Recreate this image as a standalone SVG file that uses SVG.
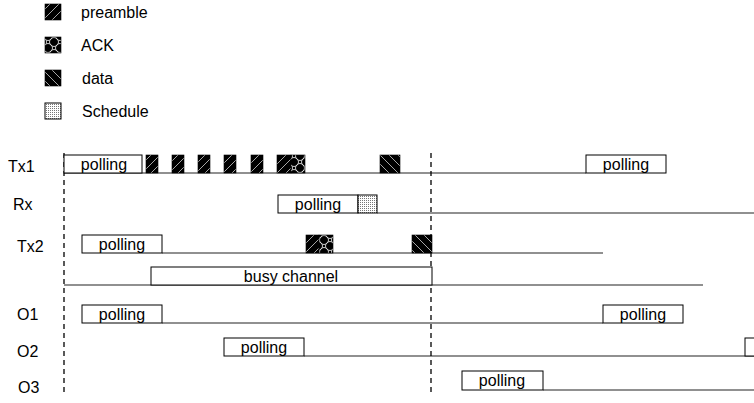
<svg xmlns="http://www.w3.org/2000/svg" width="754" height="403" viewBox="0 0 754 403">
<defs>
<pattern id="pPre" patternUnits="userSpaceOnUse" width="9" height="9">
<rect width="9" height="9" fill="#000"/>
<path d="M0 9L9 0M-1 1L1 -1M8 10L10 8" stroke="#d0d0d0" stroke-width="0.8"/>
</pattern>
<pattern id="pData" patternUnits="userSpaceOnUse" width="9" height="9">
<rect width="9" height="9" fill="#000"/>
<path d="M0 0L9 9M-1 8L1 10M8 -1L10 1" stroke="#d0d0d0" stroke-width="0.8"/>
</pattern>
<pattern id="pAck" patternUnits="userSpaceOnUse" width="12" height="12">
<rect width="12" height="12" fill="#000"/>
<circle cx="0" cy="0" r="4.5" fill="none" stroke="#dcdcdc" stroke-width="0.9"/>
<circle cx="12" cy="0" r="4.5" fill="none" stroke="#dcdcdc" stroke-width="0.9"/>
<circle cx="0" cy="12" r="4.5" fill="none" stroke="#dcdcdc" stroke-width="0.9"/>
<circle cx="12" cy="12" r="4.5" fill="none" stroke="#dcdcdc" stroke-width="0.9"/>
<circle cx="6" cy="6" r="4.5" fill="none" stroke="#dcdcdc" stroke-width="0.9"/>
</pattern>
<pattern id="pSch" patternUnits="userSpaceOnUse" width="2" height="2">
<rect width="2" height="2" fill="#fff"/>
<rect width="1" height="1" fill="#777"/>
</pattern>
</defs>
<style>
text{font-family:"Liberation Sans",Arial,sans-serif;font-size:16px;fill:#000}
.c{text-anchor:middle}
.box{fill:#fff;stroke:#000;stroke-width:1}
.pre{fill:url(#pPre);stroke:#000;stroke-width:0.6}
.dat{fill:url(#pData);stroke:#000;stroke-width:0.6}
.ack{fill:url(#pAck);stroke:#000;stroke-width:0.6}
.sch{fill:url(#pSch);stroke:#000;stroke-width:1}
.base{stroke:#222;stroke-width:1.2;fill:none}
.dash{stroke:#000;stroke-width:1.3;stroke-dasharray:5 4;fill:none}
</style>
<g id="legend">
<g id="leg-preamble"><rect class="pre" x="45" y="4" width="16" height="16"/><text x="81" y="17.5">preamble</text></g>
<g id="leg-ack"><rect class="ack" x="45" y="37" width="16" height="16"/><text x="81" y="50.5">ACK</text></g>
<g id="leg-data"><rect class="dat" x="45" y="70" width="16" height="16"/><text x="82" y="83.5">data</text></g>
<g id="leg-schedule"><rect class="sch" x="45" y="103" width="16" height="16"/><text x="82" y="116.5">Schedule</text></g>
</g>
<g id="labels">
<text x="8" y="172">Tx1</text>
<text x="13" y="210">Rx</text>
<text x="17" y="252">Tx2</text>
<text x="17" y="320">O1</text>
<text x="17" y="357">O2</text>
<text x="18" y="393">O3</text>
</g>
<g id="connectors">
<line class="base" x1="64" y1="173" x2="586" y2="173"/>
<line class="base" x1="377" y1="213" x2="754" y2="213"/>
<line class="base" x1="162" y1="253" x2="603" y2="253"/>
<line class="base" x1="64" y1="285" x2="703" y2="285"/>
<line class="base" x1="162" y1="323" x2="603" y2="323"/>
<line class="base" x1="304" y1="356" x2="754" y2="356"/>
<line class="base" x1="543" y1="390" x2="754" y2="390"/>
<line class="dash" x1="64" y1="153" x2="64" y2="395"/>
<line class="dash" x1="431" y1="153" x2="431" y2="392"/>
</g>
<g id="tx1">
<rect class="box" x="64" y="155" width="78" height="18"/><text class="c" x="104" y="169.5">polling</text>
<rect class="pre" x="146" y="155" width="12" height="18"/>
<rect class="pre" x="172" y="155" width="12" height="18"/>
<rect class="pre" x="198" y="155" width="12" height="18"/>
<rect class="pre" x="224" y="155" width="12" height="18"/>
<rect class="pre" x="251" y="155" width="12" height="18"/>
<rect class="pre" x="277" y="155" width="14" height="18"/>
<rect class="ack" x="291" y="155" width="14" height="18"/>
<rect class="dat" x="380" y="155" width="20" height="18"/>
<rect class="box" x="586" y="155" width="80" height="18"/><text class="c" x="626" y="169.5">polling</text>
</g>
<g id="rx">
<rect class="box" x="278" y="195" width="80" height="18"/><text class="c" x="318" y="209.5">polling</text>
<rect class="sch" x="358" y="195" width="19" height="18"/>
</g>
<g id="tx2">
<rect class="box" x="82" y="235" width="80" height="18"/><text class="c" x="122" y="249.5">polling</text>
<rect class="pre" x="306" y="235" width="13" height="18"/>
<rect class="ack" x="319" y="235" width="14" height="18"/>
<rect class="dat" x="412" y="235" width="20" height="18"/>
</g>
<g id="busy">
<rect class="box" x="151" y="267" width="281" height="18"/><text class="c" x="291" y="281.5">busy channel</text>
</g>
<g id="o1">
<rect class="box" x="82" y="305" width="80" height="18"/><text class="c" x="122" y="319.5">polling</text>
<rect class="box" x="603" y="305" width="80" height="18"/><text class="c" x="643" y="319.5">polling</text>
</g>
<g id="o2">
<rect class="box" x="224" y="338" width="80" height="18"/><text class="c" x="264" y="352.5">polling</text>
<rect class="box" x="745" y="338" width="80" height="18"/>
</g>
<g id="o3">
<rect class="box" x="462" y="371" width="81" height="19"/><text class="c" x="502" y="385.5">polling</text>
</g>
</svg>
